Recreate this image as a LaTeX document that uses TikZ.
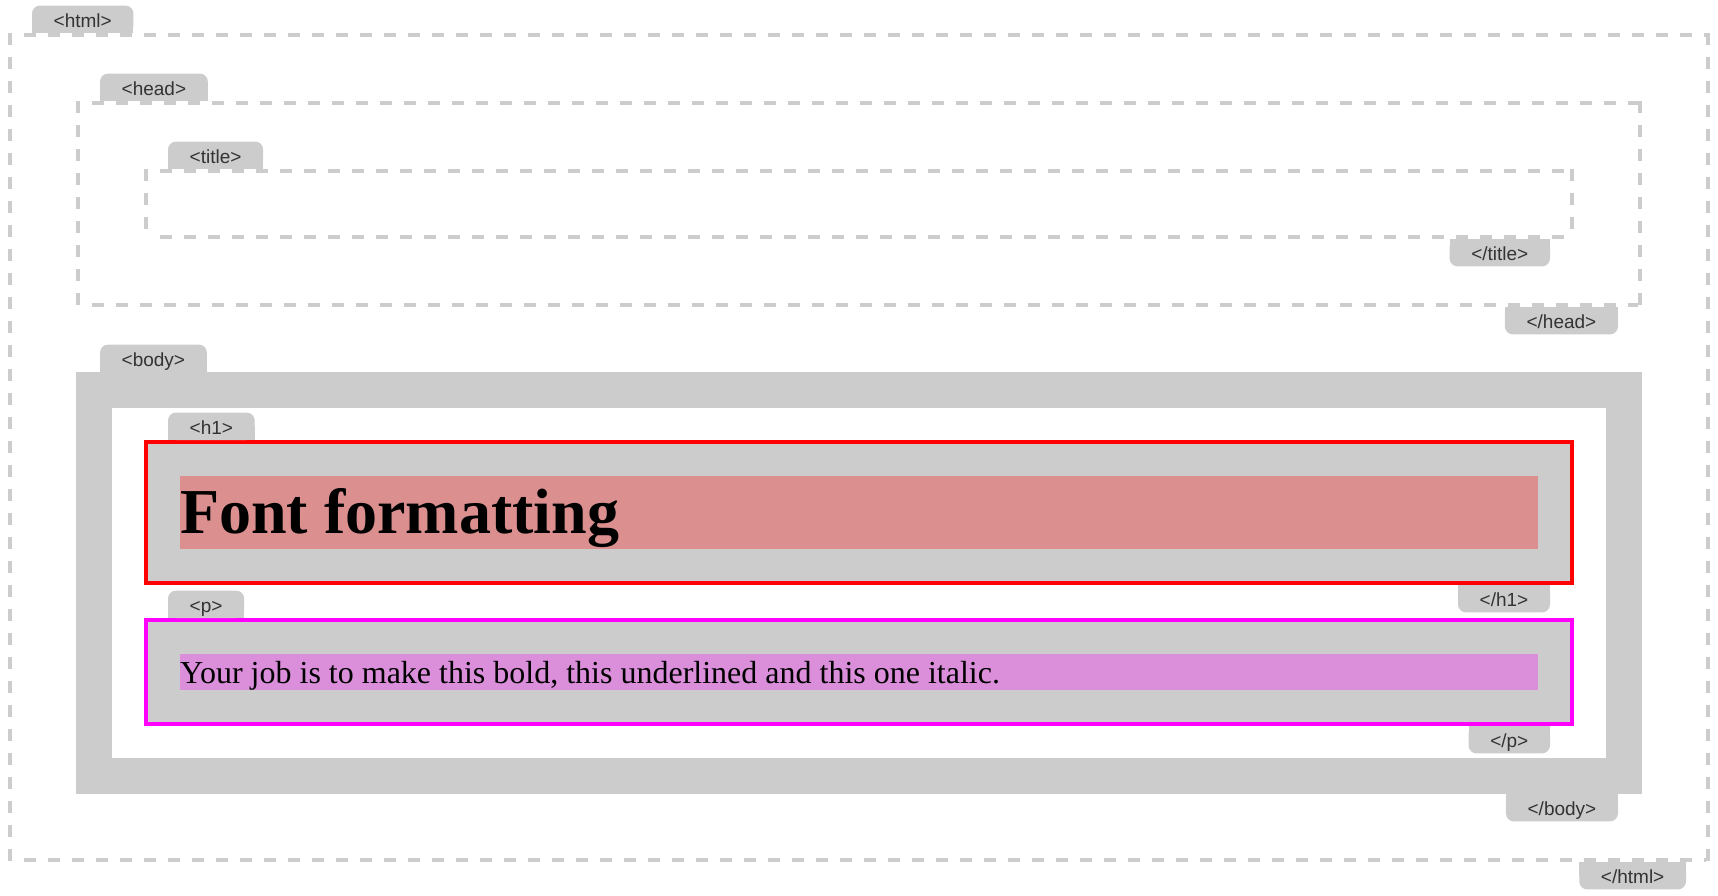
\documentclass[tikz,border=0pt]{standalone}
\usepackage{fontspec}
\setmainfont{Liberation Serif}
\newfontfamily\tabfont{Liberation Sans}
\definecolor{boxgray}{HTML}{CCCCCC}
\definecolor{tabink}{HTML}{333333}
\definecolor{hpink}{RGB}{219,143,143}
\definecolor{ppink}{RGB}{219,143,219}
\definecolor{hred}{RGB}{255,0,0}
\definecolor{pmagenta}{RGB}{255,0,255}

\pgfdeclarelayer{tabbg}
\pgfdeclarelayer{tabfg}
\pgfsetlayers{main,tabbg,tabfg}

\tikzset{
  tablabel/.style={font=\tabfont\fontsize{19}{19}\selectfont, text=tabink,
    inner xsep=21.5pt, inner ysep=0pt, minimum height=27pt,
    text height=16.5pt, text depth=0pt},
  dashedge/.style={draw=boxgray, line width=4pt, dash pattern=on 12pt off 12pt},
  hdashedge/.style={dashedge, dash phase=12pt},
  elemtext/.style={anchor=base west, inner sep=0pt, text=black},
}

% opening tag tab: rounded on top, sitting on the box's top edge
\newcommand\opentab[3]{%
  \begin{pgfonlayer}{tabfg}
    \node[tablabel, anchor=south west] (#1) at (#2) {#3};
  \end{pgfonlayer}
  \begin{pgfonlayer}{tabbg}
    \fill[boxgray, rounded corners=8pt] (#1.south west) rectangle (#1.north east);
    \fill[boxgray] (#1.west) rectangle (#1.south east);
  \end{pgfonlayer}}

% closing tag tab: rounded at the bottom, hanging from the box's bottom edge
\newcommand\closetab[3]{%
  \begin{pgfonlayer}{tabfg}
    \node[tablabel, anchor=north east] (#1) at (#2) {#3};
  \end{pgfonlayer}
  \begin{pgfonlayer}{tabbg}
    \fill[boxgray, rounded corners=8pt] (#1.south west) rectangle (#1.north east);
    \fill[boxgray] (#1.north west) rectangle (#1.east);
  \end{pgfonlayer}}

% dashed element outline, given by the centre line of its border
\newcommand\dashframe[4]{%
  \draw[dashedge] (#1,#2-2) -- (#1,#4+2);
  \draw[dashedge] (#3,#2-2) -- (#3,#4+2);
  \draw[hdashedge] (#1+2,#2) -- (#3-2,#2);
  \draw[hdashedge] (#1+2,#4) -- (#3-2,#4);}

\begin{document}
\begin{tikzpicture}[x=1pt, y=-1pt]
  \useasboundingbox (0,0) rectangle (1718,896);

  % html, head, title outlines
  \dashframe{10}{35}{1708}{860}
  \dashframe{78}{103}{1640}{305}
  \dashframe{146}{171}{1572}{237}

  % body: thick grey border
  \fill[boxgray] (76,372) rectangle (1642,794);
  \fill[white] (112,408) rectangle (1606,758);

  % h1 block
  \fill[boxgray] (146,442) rectangle (1572,583);
  \fill[hpink] (180,476) rectangle (1538,549);
  \draw[hred, line width=4pt] (146,442) rectangle (1572,583);
  \node[elemtext, font=\bfseries\fontsize{64}{64}\selectfont] (h1text) at (180,533.8) {Font formatting};

  % p block
  \fill[boxgray] (146,620) rectangle (1572,724);
  \fill[ppink] (180,654) rectangle (1538,690);
  \draw[pmagenta, line width=4pt] (146,620) rectangle (1572,724);
  \node[elemtext, font=\fontsize{32}{32}\selectfont] (ptext) at (180,683) {Your job is to make this bold, this underlined and this one italic.};

  % tag tabs
  \opentab{tHtml}{32,33}{<html>}
  \opentab{tHead}{100,101}{<head>}
  \opentab{tTitle}{168,169}{<title>}
  \closetab{eTitle}{1550,239}{</title>}
  \closetab{eHead}{1618,307}{</head>}
  \opentab{tBody}{100,372}{<body>}
  \opentab{tH1}{168,440}{<h1>}
  \closetab{eH1}{1550,585}{</h1>}
  \opentab{tP}{168,618}{<p>}
  \closetab{eP}{1550,726}{</p>}
  \closetab{eBody}{1618,794}{</body>}
  \closetab{eHtml}{1686,862}{</html>}
\end{tikzpicture}
\end{document}
